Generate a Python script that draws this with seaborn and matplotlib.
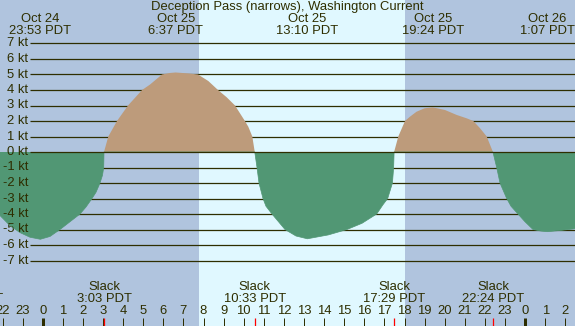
import numpy as np
import pandas as pd
import matplotlib
matplotlib.use('Agg')
import matplotlib.pyplot as plt
import seaborn as sns

# current prediction, hours from Oct 25 00:00 PDT, knots (+ flood, - ebb)
hours = [-3.50, -2.124, -1.627, -1.129, -0.632, -0.117, 0.363, 0.861, 1.358, 1.856,
         2.154, 2.453, 2.652, 2.851, 2.975, 3.035, 3.05,
         3.264, 3.697, 4.244, 4.945, 5.338, 5.935, 6.333, 6.617, 7.244, 7.726,
         8.239, 8.721, 9.154, 9.567, 10.06, 10.229, 10.428, 10.55,
         10.662, 10.761, 10.960, 11.109, 11.408, 12.055, 12.602, 13.167, 14.209,
         15.139, 15.886, 16.617, 16.93, 17.164, 17.40, 17.46, 17.483,
         17.692, 18.025, 18.274, 18.60, 19.00, 19.40, 20.015, 20.597, 21.10,
         21.423, 21.76, 22.09, 22.40,
         22.587, 22.751, 23.085, 23.30, 23.647, 23.995, 24.393, 24.791, 25.117,
         25.836, 26.483]
knots = [0.0, -4.1, -4.75, -5.2, -5.5, -5.63, -5.45, -5.0, -4.5, -4.0,
         -3.55, -3.0, -2.6, -2.0, -1.5, -1.0, 0.0,
         1.0, 2.0, 3.0, 4.0, 4.35, 5.0, 5.1, 5.13, 5.07, 5.0,
         4.58, 4.0, 3.53, 3.0, 2.0, 1.63, 1.0, 0.0,
         -1.0, -2.0, -3.0, -3.5, -4.0, -5.0, -5.42, -5.6, -5.35,
         -5.0, -4.6, -4.0, -3.4, -3.0, -2.0, -1.0, 0.0,
         1.0, 2.0, 2.28, 2.6, 2.82, 2.88, 2.71, 2.39, 2.17,
         2.0, 1.53, 1.0, 0.0,
         -1.0, -2.0, -3.0, -3.5, -4.0, -4.5, -5.0, -5.1, -5.14,
         -5.05, -4.95]

# max flood / max ebb labels along the top
event_hours = [-0.117, 6.617, 13.167, 19.40, 25.117]
event_dates = ['Oct 24', 'Oct 25', 'Oct 25', 'Oct 25', 'Oct 26']
event_clock = ['23:53 PDT', '6:37 PDT', '13:10 PDT', '19:24 PDT', '1:07 PDT']

# slack water labels along the bottom
slack_hours = [-3.50, 3.05, 10.55, 17.483, 22.40]
slack_clock = ['20:30 PDT', '3:03 PDT', '10:33 PDT', '17:29 PDT', '22:24 PDT']

sunrise = 7.776
sunset = 18.0
kt_levels = list(range(7, -8, -1))
hour_ticks = list(range(-2, 27))

df = pd.DataFrame({'hour': hours, 'kt': knots})

# pixel helpers (575x326 canvas)
T0, PXH, Y0, PXK = 42.7, 20.1, 152.0, 15.5
def tx(px):
    return (px - T0) / PXH
def ky(py):
    return (Y0 - py) / PXK

sns.set_theme(style='white')
plt.rcParams['font.family'] = ['Liberation Sans', 'DejaVu Sans']

night = '#b0c4de'
day = '#e0f8ff'
flood = '#bd9b7b'
ebb = '#519774'
ink = '#2e2e00'
fs = 9.4

fig = plt.figure(figsize=(5.75, 3.26), dpi=100)
ax = fig.add_axes([0, 0, 1, 1])
ax.set_xlim(tx(0), tx(575))
ax.set_ylim(ky(326), ky(0))
ax.axis('off')

x0, x1 = ax.get_xlim()
ax.axvspan(x0, sunrise, color=night, lw=0, zorder=0)
ax.axvspan(sunrise, sunset, color=day, lw=0, zorder=0)
ax.axvspan(sunset, x1, color=night, lw=0, zorder=0)

# grid lines and kt labels
for k in kt_levels:
    ax.hlines(k, tx(30), x1, color=ink, lw=0.9, zorder=1 if k != 0 else 4)
    ax.text(tx(28), k, f'{k} kt', ha='right', va='center', fontsize=fs, color=ink)

# flood / ebb fill
ax.fill_between(df['hour'], df['kt'], 0, where=df['kt'] >= 0, color=flood,
                lw=0, interpolate=True, zorder=2)
ax.fill_between(df['hour'], df['kt'], 0, where=df['kt'] <= 0, color=ebb,
                lw=0, interpolate=True, zorder=2)
edge = df.copy()
edge['phase'] = np.where(edge['kt'] >= 0, 'flood', 'ebb')
sns.lineplot(data=edge[edge['kt'] <= 0], x='hour', y='kt', color=ebb, lw=0.5,
             ax=ax, zorder=3, estimator=None, sort=False)

# title and events
ax.text(tx(287), ky(7), 'Deception Pass (narrows), Washington Current',
        ha='center', va='center', fontsize=fs, color=ink)
for h, d, c in zip(event_hours, event_dates, event_clock):
    ax.text(h, ky(19.5), d, ha='center', va='center', fontsize=fs, color=ink)
    ax.text(h, ky(31.5), c, ha='center', va='center', fontsize=fs, color=ink)

for h, c in zip(slack_hours, slack_clock):
    ax.text(h, ky(287.5), 'Slack', ha='center', va='center', fontsize=fs, color=ink)
    ax.text(h, ky(299.5), c, ha='center', va='center', fontsize=fs, color=ink)

# hour axis
for h in hour_ticks:
    ax.text(h, ky(311.5), str(h % 24), ha='center', va='center', fontsize=fs, color=ink)
    w = 3 if h % 24 == 0 else 1
    ax.vlines(h, ky(326), ky(318), color=ink, lw=w * 0.72)
ax.vlines(slack_hours, ky(326), ky(318), color='red', lw=0.9)

fig.savefig('out.png', dpi=100)
plt.close(fig)
